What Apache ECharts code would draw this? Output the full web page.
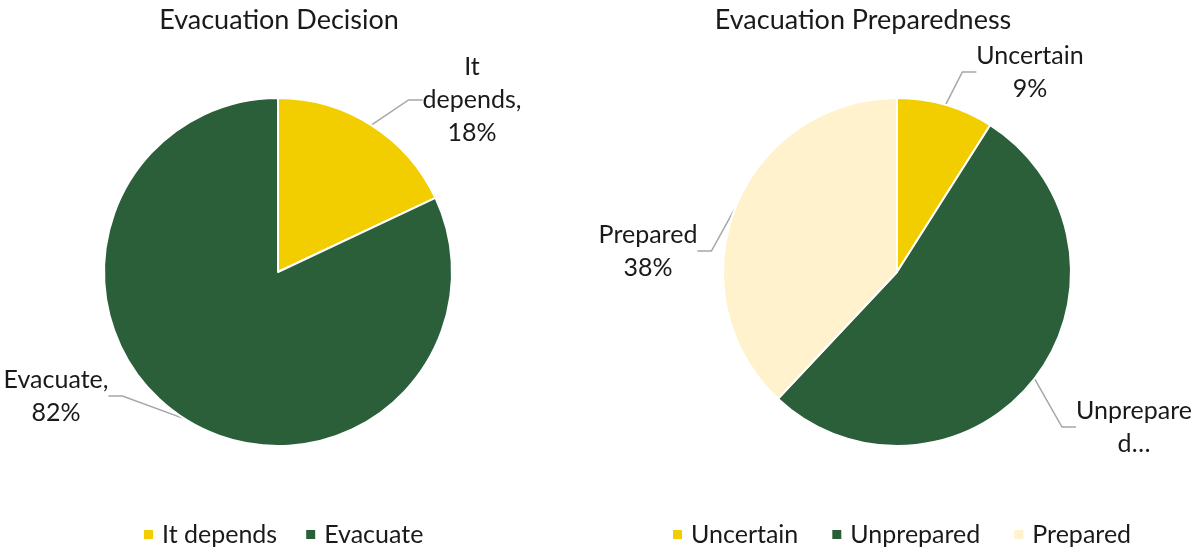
<!DOCTYPE html>
<html><head><meta charset="utf-8">
<script src="https://cdn.jsdelivr.net/npm/echarts@6/dist/echarts.min.js"></script>
<style>html,body{margin:0;padding:0;background:#fff}#c{width:1194px;height:548px}</style>
</head><body><div id="c"></div>
<script>
const titles = ['Evacuation Decision', 'Evacuation Preparedness'];
const decisionCategories = ['It depends', 'Evacuate'];
const decisionValues = [18, 82];
const decisionLabels = ['It\ndepends,\n18%', 'Evacuate,\n82%'];
const prepCategories = ['Uncertain', 'Unprepared', 'Prepared'];
const prepValues = [9, 53, 38];
const prepLabels = ['Uncertain\n9%', 'Unprepare\nd…', 'Prepared\n38%'];

const YEL = '#F2CD00', GRN = '#2A5F3A', CRM = '#FFF2CC';
const FONT = 'Lato';
const TXT = '#1a1a1a';
const chart = echarts.init(document.getElementById('c'));

// label anchor placements (text layout only)
const labelPos = [
  [{ x: 472, y: 100 }, { x: 56, y: 396 }],
  [{ x: 1030, y: 72 }, { x: 1134, y: 427 }, { x: 648, y: 251 }]
];

function mk(cats, vals, labels, colors) {
  return cats.map((c, i) => ({ name: c, value: vals[i], label: { formatter: labels[i] }, itemStyle: { color: colors[i] } }));
}
function pieSeries(center, data) {
  return {
    type: 'pie', center: center, radius: [0, 174], startAngle: 90, clockwise: true,
    itemStyle: { borderColor: '#fff', borderWidth: 2 },
    label: { position: 'outside', fontFamily: FONT, fontSize: 25, color: TXT, lineHeight: 33, overflow: 'none' },
    labelLine: { length: 20, length2: 14, lineStyle: { color: '#a6a6a6', width: 1.5 } },
    labelLayout: function (p) {
      const q = labelPos[p.seriesIndex][p.dataIndex];
      return { x: q.x, y: q.y, align: 'center', verticalAlign: 'middle' };
    },
    data: data
  };
}
const legendText = { fontFamily: FONT, fontSize: 25, color: TXT, padding: [0, 0, 0, 3] };

chart.setOption({
  animation: false,
  textStyle: { fontFamily: FONT },
  title: [
    { text: titles[0], left: 274, top: 2, textAlign: 'center', textStyle: { fontFamily: FONT, fontSize: 27, fontWeight: 'normal', color: TXT } },
    { text: titles[1], left: 858, top: 2, textAlign: 'center', textStyle: { fontFamily: FONT, fontSize: 27, fontWeight: 'normal', color: TXT } }
  ],
  legend: [
    { data: decisionCategories, left: 137, top: 517, icon: 'rect', itemWidth: 11, itemHeight: 11, itemGap: 27, textStyle: legendText },
    { data: prepCategories, left: 666, top: 517, icon: 'rect', itemWidth: 11, itemHeight: 11, itemGap: 32, textStyle: legendText }
  ],
  series: [
    pieSeries([278, 272], mk(decisionCategories, decisionValues, decisionLabels, [YEL, GRN])),
    pieSeries([897, 272], mk(prepCategories, prepValues, prepLabels, [YEL, GRN, CRM]))
  ]
});
</script></body></html>
